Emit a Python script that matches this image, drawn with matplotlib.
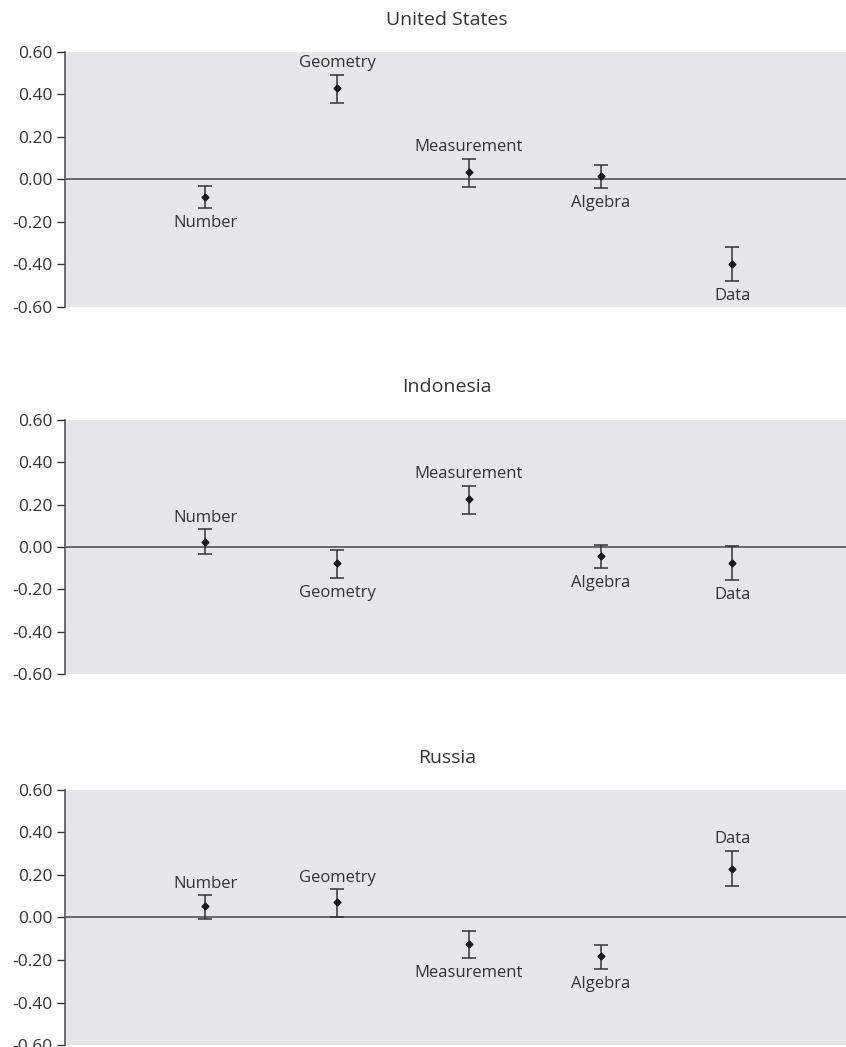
import matplotlib.pyplot as plt
from matplotlib.ticker import FormatStrFormatter

plt.rcParams['font.family'] = ['Open Sans', 'DejaVu Sans']
plt.rcParams['axes.unicode_minus'] = False

# content domains, same order in every panel
domains = ["Number", "Geometry", "Measurement", "Algebra", "Data"]
countries = ["United States", "Indonesia", "Russia"]

# relative strength estimates with lower / upper ends of the interval
us_est = [-0.084, 0.429, 0.034, 0.016, -0.398]
us_low = [-0.134, 0.359, -0.035, -0.040, -0.479]
us_high = [-0.029, 0.493, 0.098, 0.070, -0.316]
us_side = ["below", "above", "above", "below", "below"]

id_est = [0.022, -0.077, 0.225, -0.044, -0.077]
id_low = [-0.031, -0.148, 0.156, -0.101, -0.157]
id_high = [0.084, -0.014, 0.290, 0.009, 0.005]
id_side = ["above", "below", "above", "below", "below"]

ru_est = [0.052, 0.074, -0.124, -0.183, 0.230]
ru_low = [-0.009, 0.003, -0.192, -0.242, 0.146]
ru_high = [0.105, 0.132, -0.063, -0.131, 0.313]
ru_side = ["above", "above", "below", "below", "above"]

panels = [
    (us_est, us_low, us_high, us_side),
    (id_est, id_low, id_high, id_side),
    (ru_est, ru_low, ru_high, ru_side),
]

yticks = [-0.6, -0.4, -0.2, 0.0, 0.2, 0.4, 0.6]

fig = plt.figure(figsize=(8.46, 10.47), dpi=100)

# axes boxes in figure fractions (left, bottom, width, height)
boxes = [
    [0.0768, 0.7068, 0.925, 0.2436],
    [0.0768, 0.3563, 0.925, 0.2426],
    [0.0768, 0.0019, 0.925, 0.2436],
]
title_y = [0.981, 0.630, 0.276]

xpos = list(range(1, len(domains) + 1))

for i, (est, low, high, side) in enumerate(panels):
    ax = fig.add_axes(boxes[i])
    ax.set_facecolor('#e6e7e9')
    ax.set_xlim(-0.065, 5.875)
    ax.set_ylim(-0.6, 0.6)
    ax.axhline(0, color='#555555', lw=1.2, zorder=1)

    err = [[e - l for e, l in zip(est, low)], [h - e for e, h in zip(est, high)]]
    ax.errorbar(xpos, est, yerr=err, fmt='D', ms=3.5, color='#1a1a1a',
                ecolor='#333333', elinewidth=1.1, capsize=5, capthick=1.1,
                zorder=3)

    for x, name, lo, hi, s in zip(xpos, domains, low, high, side):
        if s == "above":
            ax.annotate(name, (x, hi), xytext=(0, 2.5), textcoords='offset points',
                        ha='center', va='bottom', fontsize=12, color='#333333')
        else:
            ax.annotate(name, (x, lo), xytext=(0, -5), textcoords='offset points',
                        ha='center', va='top', fontsize=12, color='#333333')

    ax.set_yticks(yticks)
    ax.yaxis.set_major_formatter(FormatStrFormatter('%.2f'))
    ax.set_xticks([])
    ax.tick_params(axis='y', labelsize=12.5, colors='#333333', length=6,
                   width=1, direction='out', pad=3)
    for sp in ['top', 'right', 'bottom']:
        ax.spines[sp].set_visible(False)
    ax.spines['left'].set_color('#555555')
    ax.spines['left'].set_linewidth(1.2)

    fig.text(0.528, title_y[i], countries[i], ha='center', va='center',
             fontsize=14, color='#333333')

fig.savefig('out.png', dpi=100)
